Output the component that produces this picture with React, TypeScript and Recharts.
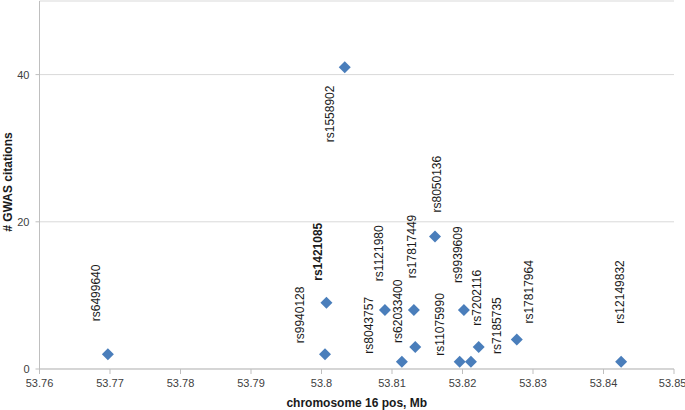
import React from 'react';
import { ScatterChart, Scatter, XAxis, YAxis, CartesianGrid, Label } from 'recharts';

// SNPs in the FTO region, chr16 position (Mb) vs number of GWAS citations
const snps = [
  'rs6499640', 'rs9940128', 'rs1421085', 'rs1558902', 'rs1121980',
  'rs8043757', 'rs62033400', 'rs17817449', 'rs8050136', 'rs11075990',
  'rs9939609', 'rs7202116', 'rs7185735', 'rs17817964', 'rs12149832',
];
const positions = [
  53.7697, 53.8005, 53.8007, 53.8033, 53.809,
  53.8114, 53.8133, 53.8131, 53.8161, 53.8196,
  53.8202, 53.8212, 53.8223, 53.8277, 53.8425,
];
const citations = [2, 2, 9, 41, 8, 1, 3, 8, 18, 1, 8, 1, 3, 4, 1];

const xTicks = [53.76, 53.77, 53.78, 53.79, 53.8, 53.81, 53.82, 53.83, 53.84, 53.85];
const yTicks = [0, 20, 40];
const highlighted = 'rs1421085';

// label placement relative to its point (px): [dx of label centre, dy of text start]
const labelOffsets: Record<string, [number, number]> = {
  rs6499640: [-12, -33],
  rs9940128: [-25, -11],
  rs1421085: [-8, -22],
  rs1558902: [-15, 75],
  rs1121980: [-6, -29],
  rs8043757: [-33, -8],
  rs62033400: [-17, -4],
  rs17817449: [-2, -32],
  rs8050136: [2, -24],
  rs11075990: [-20, -6],
  rs9939609: [-6, -27],
  rs7202116: [6, -36],
  rs7185735: [18, 7],
  rs17817964: [12, -16],
  rs12149832: [-1, -38],
};

const data = snps.map((snp, i) => ({ snp, pos: positions[i], cites: citations[i] }));

const FONT = '"Liberation Sans", Arial, sans-serif';

function SnpPoint(props: any) {
  const { cx, cy, payload } = props;
  const [dx, dy] = labelOffsets[payload.snp] || [0, -12];
  const lx = cx + dx;
  const ly = cy + dy;
  const r = 6;
  return (
    <g>
      <polygon
        points={`${cx},${cy - r} ${cx + r},${cy} ${cx},${cy + r} ${cx - r},${cy}`}
        fill="#4a7ebb"
      />
      <text
        x={lx}
        y={ly}
        transform={`rotate(-90, ${lx}, ${ly})`}
        dominantBaseline="central"
        fontFamily={FONT}
        fontSize={12}
        fontWeight={payload.snp === highlighted ? 'bold' : 'normal'}
        fill="#1a1a1a"
      >
        {payload.snp}
      </text>
    </g>
  );
}

function YTitle(props: any) {
  const { viewBox } = props;
  const x = 8;
  const y = viewBox.y + viewBox.height / 2 - 3;
  return (
    <text
      x={x}
      y={y}
      transform={`rotate(-90, ${x}, ${y})`}
      textAnchor="middle"
      dominantBaseline="central"
      fontFamily={FONT}
      fontSize={12}
      fontWeight="bold"
      fill="#1a1a1a"
    >
      # GWAS citations
    </text>
  );
}

function XTitle(props: any) {
  const { viewBox } = props;
  const x = viewBox.x + viewBox.width / 2;
  return (
    <text
      x={x}
      y={403}
      textAnchor="middle"
      dominantBaseline="central"
      fontFamily={FONT}
      fontSize={12}
      fontWeight="bold"
      fill="#1a1a1a"
    >
      chromosome 16 pos, Mb
    </text>
  );
}

const fmtX = (v: number) => String(Number(v.toFixed(2)));

export default function App() {
  return (
    <div style={{ position: 'absolute', left: 0, top: 0, width: 685, height: 410, background: '#fff' }}>
      <ScatterChart width={685} height={410} margin={{ top: 1, right: 11, bottom: 0, left: 0 }}>
        <CartesianGrid vertical={false} stroke="#d9d9d9" />
        <XAxis
          type="number"
          dataKey="pos"
          domain={[53.76, 53.85]}
          ticks={xTicks}
          tickFormatter={fmtX}
          allowDataOverflow
          height={41}
          stroke="#bfbfbf"
          tickSize={5}
          tickMargin={5}
          tick={{ fill: '#404040', fontSize: 11, fontFamily: FONT }}
        >
          <Label content={<XTitle />} />
        </XAxis>
        <YAxis
          type="number"
          dataKey="cites"
          domain={[0, 50]}
          ticks={yTicks}
          width={39.5}
          stroke="#bfbfbf"
          tickSize={4}
          tickMargin={6}
          tick={{ fill: '#404040', fontSize: 11, fontFamily: FONT }}
        >
          <Label content={<YTitle />} />
        </YAxis>
        <Scatter data={data} shape={<SnpPoint />} isAnimationActive={false} />
      </ScatterChart>
    </div>
  );
}
